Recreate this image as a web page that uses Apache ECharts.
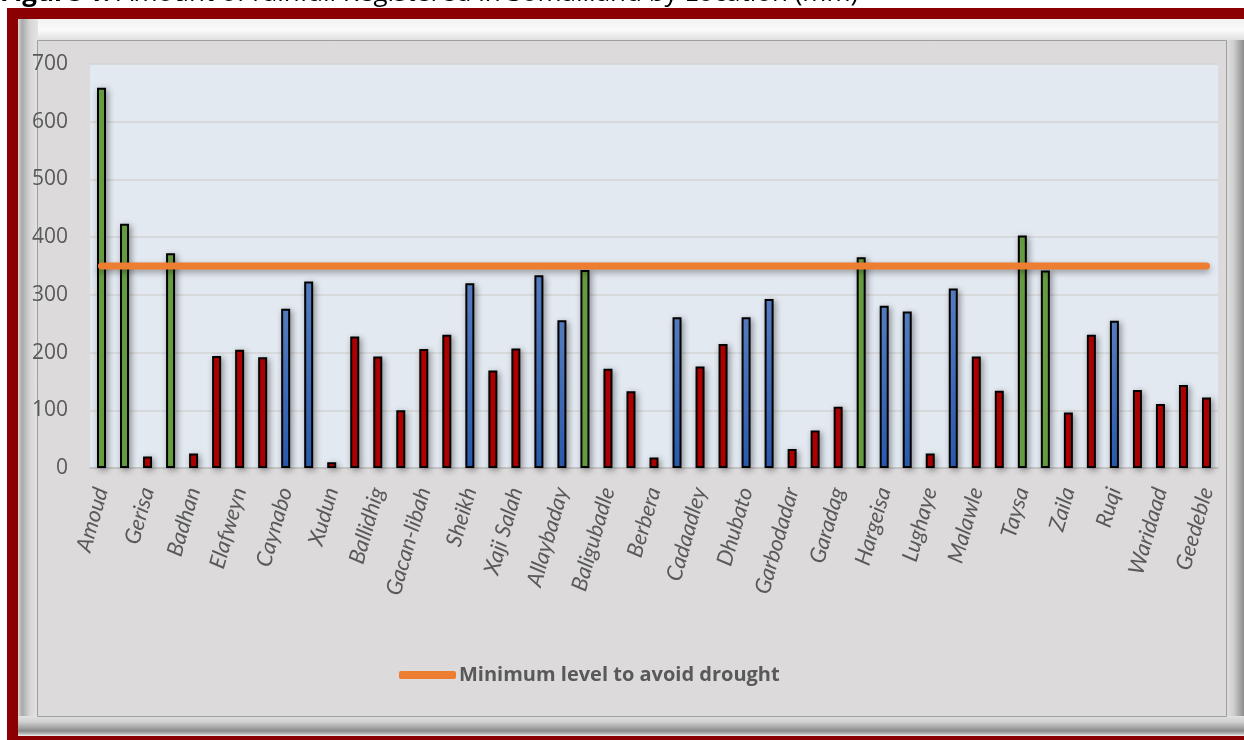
<!DOCTYPE html>
<html>
<head>
<meta charset="utf-8">
<script src="https://cdn.jsdelivr.net/npm/echarts@6/dist/echarts.min.js"></script>
<style>
html,body{margin:0;padding:0;background:#ffffff;}
#chart{width:1244px;height:740px;}
</style>
</head>
<body>
<div id="chart"></div>
<script>
// Locations (only every other one is labelled in the source figure)
const categories = [
  'Amoud','','Gerisa','','Badhan','','Elafweyn','','Caynabo','','Xudun','','Ballidhig','',
  'Gacan-libah','','Sheikh','','Xaji Salah','','Allaybaday','','Baligubadle','','Berbera','',
  'Cadaadley','','Dhubato','','Garbodadar','','Garadag','','Hargeisa','','Lughaye','',
  'Malawle','','Taysa','','Zaila','','Ruqi','','Waridaad','','Geedeble'
];
// Rainfall in mm
const rainfall = [
  659, 423, 20, 372, 25, 194, 205, 192, 276, 323, 10, 228, 193, 100,
  206, 231, 320, 169, 207, 334, 256, 343, 172, 133, 18, 261,
  176, 215, 261, 293, 33, 65, 106, 365, 281, 271, 25, 311,
  193, 134, 403, 342, 96, 231, 255, 135, 111, 144, 122
];
// Colour class of each bar: g = green, b = blue, r = red
const barClass = [
  'g','g','r','g','r','r','r','r','b','b','r','r','r','r',
  'r','r','b','r','r','b','b','g','r','r','r','b',
  'r','r','b','b','r','r','r','g','b','b','r','b',
  'r','r','g','g','r','r','b','r','r','r','r'
];
const minLevel = 350;
const lineName = 'Minimum level to avoid drought';
const yTicks = [0, 100, 200, 300, 400, 500, 600, 700];

const FONT = '"Open Sans", "Noto Sans", sans-serif';
const LFONT = 'Lato, "Open Sans", sans-serif';
const colors = {
  g: '#70AD47',
  r: '#C00000',
  b: new echarts.graphic.LinearGradient(0, 0, 0, 1, [
    {offset: 0, color: '#5E8AD4'},
    {offset: 1, color: '#2E63C0'}
  ])
};

const chart = echarts.init(document.getElementById('chart'), null, {renderer: 'canvas'});

const BZ = -20;
const frame = [
  {type: 'rect', shape: {x: 7, y: 8, width: 1240, height: 735}, style: {fill: '#8B0000'}, z: BZ},
  {type: 'rect', shape: {x: 18, y: 19, width: 1230, height: 717}, style: {fill: '#D2D2D2'}, z: BZ},
  {type: 'rect', shape: {x: 18, y: 19, width: 1230, height: 22}, z: BZ, style: {
    fill: new echarts.graphic.LinearGradient(0, 0, 0, 1, [
      {offset: 0, color: '#F2F2F2'}, {offset: 0.5, color: '#FAFAFA'}, {offset: 1, color: '#DDDDDD'}])}},
  {type: 'rect', shape: {x: 18, y: 19, width: 20, height: 717}, z: BZ, style: {
    fill: new echarts.graphic.LinearGradient(0, 0, 1, 0, [
      {offset: 0, color: '#D8D8D8'}, {offset: 0.2, color: '#A9A9A9'}, {offset: 0.6, color: '#D6D6D6'}, {offset: 1, color: '#E4E4E4'}])}},
  {type: 'rect', shape: {x: 1226, y: 40, width: 22, height: 696}, z: BZ, style: {
    fill: new echarts.graphic.LinearGradient(0, 0, 1, 0, [
      {offset: 0, color: '#E0E0E0'}, {offset: 0.35, color: '#CFCFCF'}, {offset: 0.8, color: '#8E8E8E'}, {offset: 1, color: '#9A9A9A'}])}},
  {type: 'rect', shape: {x: 18, y: 716, width: 1230, height: 20}, z: BZ, style: {
    fill: new echarts.graphic.LinearGradient(0, 0, 0, 1, [
      {offset: 0, color: '#E2E2E2'}, {offset: 0.3, color: '#CFCFCF'}, {offset: 0.75, color: '#8A8A8A'}, {offset: 0.9, color: '#BDBDBD'}, {offset: 1, color: '#F4F4F4'}])}},
  {type: 'rect', shape: {x: 37.5, y: 40.5, width: 1189, height: 676}, z: BZ, style: {
    fill: '#DCDADA', stroke: '#9E9E9E', lineWidth: 1}},
  // title (cut off at top, as in the source)
  {type: 'text', left: 0, top: -19, z: BZ, style: {
    text: '{b|Figure 1:} Amount of rainfall Registered in Somaliland by Location (mm)',
    font: '26px ' + FONT, fill: '#000',
    rich: {b: {fontWeight: 'bold', fontSize: 26, fontFamily: FONT, fill: '#000'}}
  }}
];

chart.setOption({
  animation: false,
  textStyle: {fontFamily: FONT},
  graphic: frame,
  grid: {left: 90, right: 26, top: 64, bottom: 272, show: true,
    backgroundColor: '#E3E9F1', borderWidth: 0},
  legend: {
    data: [{name: lineName, icon: 'roundRect'}],
    left: 399, top: 665, padding: 0,
    itemWidth: 57, itemHeight: 8, itemGap: 4,
    textStyle: {color: '#595959', fontSize: 20, fontWeight: 'bold', fontFamily: FONT, padding: [0, 0, 0, -2]}
  },
  xAxis: {
    type: 'category',
    data: categories,
    axisLine: {show: true, lineStyle: {color: '#BFBFBF', width: 1.5}},
    axisTick: {show: false},
    axisLabel: {interval: 0, rotate: 74, margin: 20, color: '#595959',
      fontSize: 22, fontStyle: 'italic', fontFamily: LFONT},
    splitLine: {show: false}
  },
  yAxis: {
    type: 'value', min: yTicks[0], max: yTicks[yTicks.length - 1], interval: 100,
    axisLine: {show: false}, axisTick: {show: false},
    axisLabel: {color: '#595959', fontSize: 21, margin: 22, fontFamily: FONT},
    splitLine: {lineStyle: {color: '#D3D3D3', width: 1.5}}
  },
  series: [
    {
      type: 'bar',
      name: 'Rainfall (mm)',
      barWidth: 9,
      data: rainfall.map((v, i) => ({
        value: v,
        itemStyle: {color: colors[barClass[i]]}
      })),
      itemStyle: {borderColor: '#000', borderWidth: 2,
        shadowColor: 'rgba(0,0,0,0.35)', shadowBlur: 6, shadowOffsetX: 2, shadowOffsetY: 2},
      z: 2
    },
    {
      type: 'line',
      name: lineName,
      data: [[0, minLevel], [categories.length - 1, minLevel]],
      symbol: 'none',
      color: '#ED7D31',
      lineStyle: {color: '#ED7D31', width: 7, cap: 'round',
        shadowColor: 'rgba(0,0,0,0.35)', shadowBlur: 6, shadowOffsetY: 3},
      z: 3
    }
  ]
});
</script>
</body>
</html>
